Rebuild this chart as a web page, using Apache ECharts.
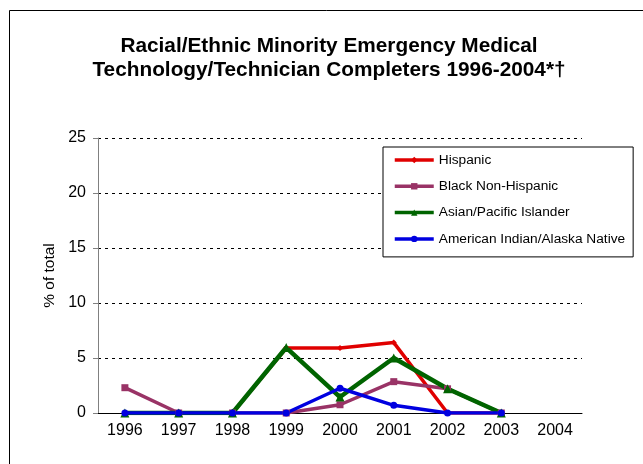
<!DOCTYPE html>
<html>
<head>
<meta charset="utf-8">
<script src="https://cdn.jsdelivr.net/npm/echarts@6/dist/echarts.min.js"></script>
<style>
  html, body { margin: 0; padding: 0; background: #fff; }
  #main { width: 643px; height: 464px; }
</style>
</head>
<body>
<div id="main"></div>
<script>
const chart = echarts.init(document.getElementById('main'));

// Years on the x axis
const years = ['1996', '1997', '1998', '1999', '2000', '2001', '2002', '2003', '2004'];

// % of total completers
const hispanic = [0, 0, 0, 5.9, 5.9, 6.4, 0, 0, null];
const blackNonHispanic = [2.3, 0, 0, 0, 0.75, 2.85, 2.2, 0, null];
const asianPacific = [0, 0, 0, 5.95, 1.45, 5.0, 2.2, 0, null];
const amIndianAlaska = [0, 0, 0, 0, 2.25, 0.7, 0, 0, null];

const yTicks = [0, 5, 10, 15, 20, 25];

const font = 'Liberation Sans, Arial, sans-serif';

function line(name, data, color, symbol, width, size) {
  return {
    name: name,
    type: 'line',
    data: data,
    color: color,
    symbol: symbol,
    symbolSize: size,
    showSymbol: true,
    lineStyle: { width: width, color: color },
    itemStyle: { color: color },
    emphasis: { disabled: true },
    animation: false
  };
}

const options = {
  backgroundColor: '#fff',
  animation: false,
  title: {
    text: 'Racial/Ethnic Minority Emergency Medical\nTechnology/Technician Completers 1996-2004*\u2020',
    left: 324,
    textAlign: 'center',
    top: 29,
    textStyle: { fontFamily: font, fontSize: 20.8, fontWeight: 'bold', color: '#000', lineHeight: 24 }
  },
  graphic: [{
    type: 'rect',
    shape: { x: 9.5, y: 10.5, width: 700, height: 500 },
    style: { fill: 'none', stroke: '#000', lineWidth: 1 },
    silent: true
  }],
  legend: {
    orient: 'vertical',
    left: 383,
    top: 147,
    padding: [6, 8, 11, 10],
    itemGap: 12.3,
    itemWidth: 39,
    itemHeight: 8,
    borderColor: '#000',
    borderWidth: 1,
    backgroundColor: '#fff',
    lineStyle: { width: 3.5 },
    textStyle: { fontFamily: font, fontSize: 13.7, color: '#000' },
    data: ['Hispanic', 'Black Non-Hispanic', 'Asian/Pacific Islander', 'American Indian/Alaska Native']
  },
  grid: { left: 98, right: 61, top: 138, bottom: 51, containLabel: false },
  xAxis: {
    type: 'category',
    data: years,
    boundaryGap: true,
    axisLine: { lineStyle: { color: '#000', width: 1 } },
    axisTick: { show: false },
    axisLabel: { fontFamily: font, fontSize: 16, color: '#000', margin: 10 }
  },
  yAxis: {
    type: 'value',
    min: yTicks[0],
    max: yTicks[yTicks.length - 1],
    interval: 5,
    name: '% of total',
    nameLocation: 'middle',
    nameGap: 36,
    nameTextStyle: { fontFamily: font, fontSize: 15.5, color: '#000' },
    axisLine: { show: true, lineStyle: { color: '#808080', width: 1 } },
    axisTick: { show: true, length: 5, lineStyle: { color: '#808080' } },
    axisLabel: { fontFamily: font, fontSize: 16, color: '#000', margin: 12 },
    splitLine: { show: true, lineStyle: { color: '#000', type: [3, 4], width: 1 } }
  },
  series: [
    line('Hispanic', hispanic, '#e00000', 'diamond', 3.5, 6),
    line('Black Non-Hispanic', blackNonHispanic, '#993366', 'rect', 3.5, 7),
    line('Asian/Pacific Islander', asianPacific, '#006400', 'triangle', 4.5, 9),
    line('American Indian/Alaska Native', amIndianAlaska, '#0000e0', 'circle', 3.5, 7)
  ]
};

chart.setOption(options);
</script>
</body>
</html>
